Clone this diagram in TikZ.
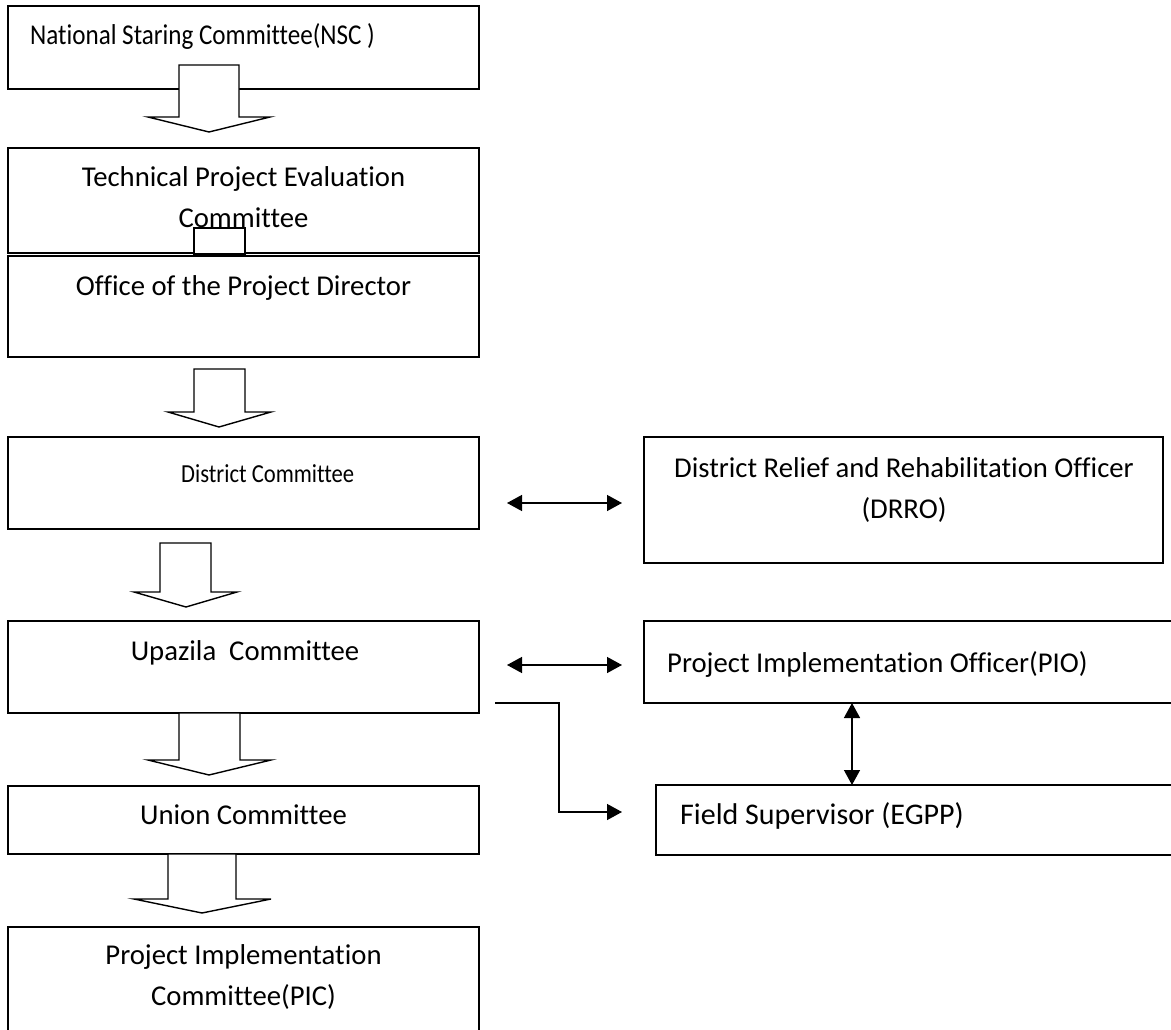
\documentclass[tikz,border=0pt]{standalone}
\usepackage{fontspec}
\setmainfont{Carlito}[Ligatures=NoCommon]
\usetikzlibrary{arrows.meta}

% hollow block arrow: shaft left/right x, shaft top y, head base y,
% head left/right x, tip x, tip y
\newcommand\hollowarrow[8]{%
  \draw[blockarrow] (#1,#3) -- (#2,#3) -- (#2,#4) -- (#6,#4) -- (#7,#8)
    -- (#5,#4) -- (#1,#4) -- cycle;}

\begin{document}
\begin{tikzpicture}[x=1pt,y=-1pt,
  box/.style={draw, line width=1.4pt, fill=white, anchor=north west,
    inner sep=0pt, outer sep=0pt},
  txt/.style={font=\fontsize{28.7}{41}\selectfont, inner sep=0pt,
    anchor=base, align=center},
  blockarrow/.style={draw, line width=1.4pt, fill=white, line join=miter},
  tip/.tip={Triangle[length=15pt,width=16pt]},
  link/.style={line width=1.4pt},
]
\useasboundingbox (0,0) rectangle (1171,1030);
\clip (0,0) rectangle (1171,1030);

% left column of committees
\node[box, minimum width=471pt, minimum height=83pt]  (nsc)   at (8,6) {};
\node[box, minimum width=471pt, minimum height=105pt] (tpec)  at (8,148) {};
% stub of the arrow tucked under the project director box
\node[box, minimum width=51pt, minimum height=26pt]   (stub)  at (194,228) {};
\node[box, minimum width=471pt, minimum height=101pt] (office) at (8,256) {};
\node[box, minimum width=471pt, minimum height=92pt]  (district) at (8,437) {};
\node[box, minimum width=471pt, minimum height=92pt]  (upazila) at (8,621) {};
\node[box, minimum width=471pt, minimum height=68pt]  (union) at (8,786) {};
\node[box, minimum width=471pt, minimum height=120pt] (pic)   at (8,927) {};

% right column of officers
\node[box, minimum width=519pt, minimum height=126pt] (drro)  at (644,437) {};
\node[box, minimum width=540pt, minimum height=82pt]  (pio)   at (644,621) {};
\node[box, minimum width=530pt, minimum height=70pt]  (fs)    at (656,785) {};

% hollow arrows down the hierarchy
\hollowarrow{179}{239}{65}{117}{148}{270}{209}{132}
\hollowarrow{194}{245}{369}{412}{168}{271}{219}{427}
\hollowarrow{160}{211}{543}{592}{134}{237}{186}{607}
\hollowarrow{179}{240}{713}{760}{148}{271}{209}{775}
\hollowarrow{168}{236}{854}{899}{134}{271}{202}{913}

% labels (two titles are set a little narrower)
\node[txt, anchor=base west] (nsc-t) at (30,45)
  {\scalebox{0.875}[1]{National Staring Committee(NSC )}};
\node[txt] (tpec-t) at (243.5,228) {Technical Project Evaluation\\Committee};
\node[txt] (office-t) at (243.5,295) {Office of the Project Director};
\node[txt, font=\fontsize{26}{30}\selectfont, anchor=base west] (district-t) at (181,482)
  {\scalebox{0.87}[1]{District Committee}};
\node[txt] (upazila-t) at (245,660) {Upazila\ \ Committee};
\node[txt] (union-t) at (243.5,824) {Union Committee};
\node[txt] (pic-t) at (243.5,1005) {Project Implementation\\Committee(PIC)};
\node[txt] (drro-t) at (904,518) {District Relief and Rehabilitation Officer\\(DRRO)};
\node[txt, anchor=base west] (pio-t) at (667,672) {Project Implementation Officer(PIO)};
\node[txt, font=\fontsize{30}{36}\selectfont, anchor=base west] (fs-t) at (680,824)
  {Field Supervisor (EGPP)};

% links between committees and officers
\coordinate (a1) at (507,503);  \coordinate (a2) at (622,503);
\coordinate (b1) at (507,665);  \coordinate (b2) at (622,665);
\coordinate (vx) at (852,0);
\coordinate (e0) at (495,703);  \coordinate (e1) at (559,703);
\coordinate (e2) at (622,812);

\draw[link, tip-tip] (a1) -- (a2);
\draw[link, tip-tip] (b1) -- (b2);
\draw[link, tip-tip] (pio.south -| vx) -- (fs.north -| vx);
\draw[link, -tip] (e0) -- (e1) |- (e2);
\end{tikzpicture}
\end{document}
